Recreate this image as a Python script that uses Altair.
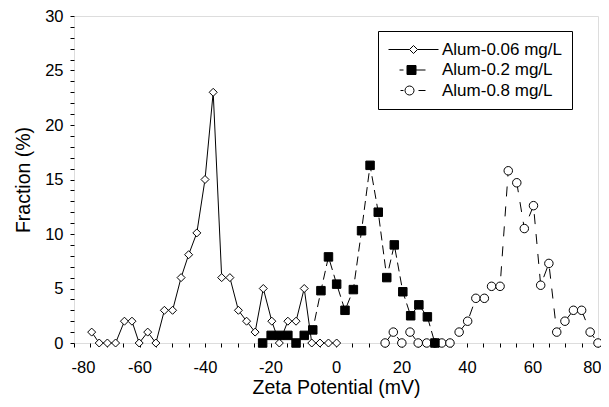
import altair as alt
import pandas as pd

# Alum-0.06 mg/L (open diamonds, solid line)
x1 = [-74.6, -72.3, -69.8, -67.3, -64.6, -62.3, -60.1, -57.5, -55.0, -52.4, -49.9,
      -47.3, -45.0, -42.5, -40.0, -37.5, -34.9, -32.4, -29.8, -27.3, -24.7, -22.2,
      -19.6, -17.3, -14.7, -12.2, -9.7, -7.4, -4.9, -2.3, 0.2]
y1 = [1, 0, 0, 0, 2, 2, 0, 1, 0, 3, 3, 6, 8.1, 10.1, 15, 23, 6, 6, 3, 2, 1, 5,
      2, 0, 2, 2, 5, 0, 0, 0, 0]

# Alum-0.2 mg/L (filled squares, dashed line)
x2 = [-22.4, -19.8, -17.3, -14.7, -12.2, -9.7, -7.1, -4.6, -2.3, 0.2, 2.75, 5.3,
      7.8, 10.4, 12.9, 15.5, 17.8, 20.4, 22.8, 25.3, 27.9, 30.2]
y2 = [0, 0.7, 0.7, 0.7, 0, 0.7, 1.2, 4.8, 7.9, 5.4, 3.0, 4.9, 10.3, 16.3, 12.0,
      6.0, 9.0, 4.7, 2.5, 3.5, 2.4, 0]

# Alum-0.8 mg/L (open circles, long-dashed line)
x3 = [15.0, 17.5, 20.1, 22.6, 25.1, 27.7, 30.2, 32.3, 34.8, 37.6, 40.2, 42.7, 45.3,
      47.5, 50.1, 52.6, 55.2, 57.5, 60.3, 62.5, 65.0, 67.4, 69.9, 72.5, 75.0, 77.6, 80.0]
y3 = [0, 1, 0, 1, 0, 0, 0, 0, 0, 1, 2, 4.1, 4.1, 5.2, 5.2, 15.8, 14.7, 10.5, 12.6,
      5.3, 7.3, 1, 2, 3, 3, 1, 0]

series = ["Alum-0.06 mg/L", "Alum-0.2 mg/L", "Alum-0.8 mg/L"]
x_ticks = list(range(-80, 81, 5))
y_ticks = list(range(0, 31, 1))
x_min, x_max = -80, 80
y_min, y_max = 0, 30

FONT = "Liberation Sans"
W, H = 524, 327

d1 = pd.DataFrame({"x": x1, "y": y1})
d2 = pd.DataFrame({"x": x2, "y": y2})
d3 = pd.DataFrame({"x": x3, "y": y3})
dleg = pd.DataFrame({"s": series})

xscale = alt.Scale(domain=[x_min, x_max], nice=False, zero=False)
yscale = alt.Scale(domain=[y_min, y_max], nice=False, zero=False)

common_axis = dict(grid=False, domain=False, ticks=True, tickSize=4,
                   tickColor="black", tickWidth=1,
                   labelFont=FONT, labelFontSize=16.5, labelColor="black",
                   titleFont=FONT, titleFontSize=19.5, titleColor="black",
                   titleFontWeight="normal", labelOverlap=False)

x_bottom = alt.Axis(orient="bottom", values=x_ticks, title="Zeta Potential (mV)",
                    labelExpr="datum.value % 20 === 0 ? '' + datum.value : ''",
                    labelFlush=True, labelFlushOffset=3,
                    labelPadding=12, titlePadding=3, **common_axis)
y_left = alt.Axis(orient="left", values=y_ticks, title="Fraction (%)",
                  labelExpr="datum.value % 5 === 0 ? '' + datum.value : ''",
                  labelFlush=False,
                  labelPadding=7, titlePadding=11, **common_axis)


def line_layer(df, dash, xaxis=None, yaxis=None):
    m = alt.Chart(df).mark_line(color="black", strokeWidth=1,
                                **({"strokeDash": dash} if dash else {}))
    return m.encode(
        x=alt.X("x:Q", scale=xscale, axis=xaxis),
        y=alt.Y("y:Q", scale=yscale, axis=yaxis),
    )


def point_layer(df, shape, fill, size):
    return alt.Chart(df).mark_point(shape=shape, fill=fill, stroke="black",
                                    strokeWidth=1, size=size, opacity=1,
                                    fillOpacity=1).encode(
        x=alt.X("x:Q", scale=xscale, axis=None),
        y=alt.Y("y:Q", scale=yscale, axis=None),
    )


l1 = line_layer(d1, None, x_bottom, y_left)
p1 = point_layer(d1, "diamond", "white", 64)
l3 = line_layer(d3, [10, 10])
p3 = point_layer(d3, "circle", "white", 72)
l2 = line_layer(d2, [9, 5])
p2 = point_layer(d2, "square", "black", 72)

leg_paths = [
    "M-23,0H-2M6,0H27M2,-4L6,0L2,4L-2,0Z",
    "M-12,0H-8M-4.5,-4.5H4.5V4.5H-4.5ZM4.5,0H14",
    "M-11,0H-8M2.5,0A4.5,4.5,0,1,1,-6.5,0A4.5,4.5,0,1,1,2.5,0ZM7,0H14",
]
leg_fill = ["white", "black", "white"]
leg_stroke = ["black", "black", "black"]

legend_def = dict(title=None, orient="none", legendX=304, legendY=15,
                  labelFont=FONT, labelFontSize=17, labelColor="black",
                  symbolSize=4, symbolStrokeWidth=1, symbolStrokeColor="black",
                  symbolOffset=15, labelOffset=22, padding=10, rowPadding=2.5,
                  strokeColor="black", fillColor="white")

leg = alt.Chart(dleg).transform_filter("false").mark_point(
    strokeWidth=1, opacity=1).encode(
    shape=alt.Shape("s:N", scale=alt.Scale(domain=series, range=leg_paths),
                    legend=alt.Legend(**legend_def)),
    fill=alt.Fill("s:N", scale=alt.Scale(domain=series, range=leg_fill),
                  legend=alt.Legend(**legend_def)),
    stroke=alt.Stroke("s:N", scale=alt.Scale(domain=series, range=leg_stroke),
                      legend=alt.Legend(**legend_def)),
)

chart = alt.layer(l1, p1, l3, p3, l2, p2, leg).resolve_axis(
    x="independent", y="independent"
).properties(
    width=W, height=H,
    autosize=alt.AutoSizeParams(type="none"),
    padding={"left": 66, "top": 8, "right": 3, "bottom": 56},
).configure_view(stroke="black", strokeWidth=1.3
).configure_legend(strokeWidth=1.6
).configure(background="white")

chart.save("out.html", embed_options={"renderer": "svg", "actions": False})
